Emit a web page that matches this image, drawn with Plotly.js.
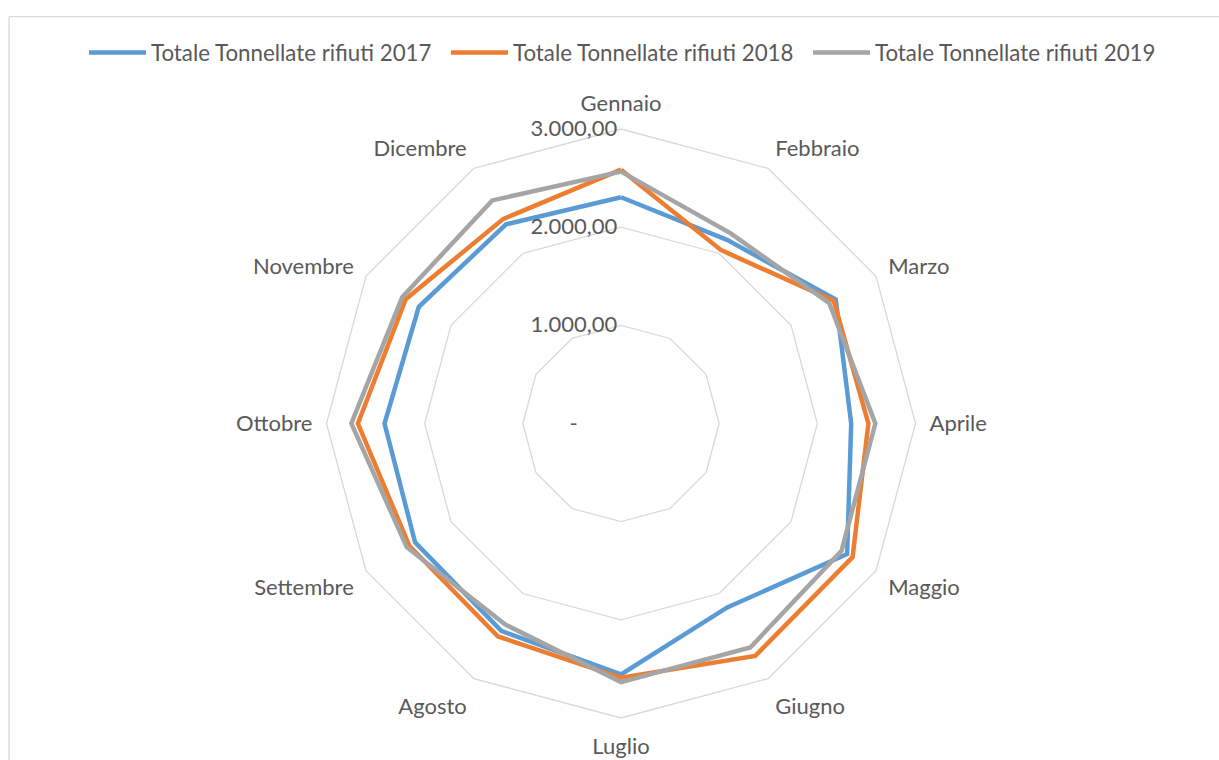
<!DOCTYPE html>
<html>
<head>
<meta charset="utf-8">
<script src="https://cdn.plot.ly/plotly-3.0.1.min.js"></script>
<style>html,body{margin:0;padding:0;background:#fff;overflow:hidden}#chart{width:1219px;height:760px}</style>
</head>
<body>
<div id="chart"></div>
<script>
const months = ["Gennaio","Febbraio","Marzo","Aprile","Maggio","Giugno","Luglio","Agosto","Settembre","Ottobre","Novembre","Dicembre"];
const seriesNames = ["Totale Tonnellate rifiuti 2017","Totale Tonnellate rifiuti 2018","Totale Tonnellate rifiuti 2019"];
const values2017 = [2305, 2160, 2526, 2345, 2660, 2164, 2556, 2439, 2422, 2409, 2378, 2343];
const values2018 = [2586, 2039, 2502, 2520, 2724, 2734, 2590, 2505, 2490, 2680, 2532, 2404];
const values2019 = [2566, 2236, 2450, 2591, 2594, 2634, 2634, 2363, 2520, 2747, 2574, 2624];
const radialTickVals = [0, 1000, 2000, 3000];
const radialTickText = ["-\u00a0\u00a0\u00a0\u00a0\u00a0\u00a0\u00a0", "1.000,00", "2.000,00", "3.000,00"];
const colors = ["#5B9BD5", "#ED7D31", "#A5A5A5"];

const allValues = [values2017, values2018, values2019];
const traces = allValues.map((v, i) => ({
  type: "scatterpolar",
  mode: "lines",
  r: v.concat([v[0]]),
  theta: months.concat([months[0]]),
  name: seriesNames[i],
  line: {color: colors[i], width: 4.5, shape: "linear"},
  hoverinfo: "skip"
}));

const layout = {
  width: 1219, height: 760,
  margin: {l: 23, r: 0, t: 128.5, b: 41.5},
  paper_bgcolor: "#fff",
  font: {family: "Lato, 'Open Sans', sans-serif", size: 22, color: "#595959"},
  showlegend: true,
  legend: {
    orientation: "h", x: 0.505, xanchor: "center", y: 1.13, yanchor: "middle",
    font: {size: 22.3, color: "#595959"}, itemwidth: 57, tracegroupgap: 0,
    entrywidth: 290
  },
  hovermode: false,
  polar: {
    bgcolor: "rgba(0,0,0,0)",
    gridshape: "linear",
    domain: {x: [0, 1], y: [0, 1]},
    radialaxis: {
      range: [0, 3000], angle: 90, tickangle: 90,
      tickvals: radialTickVals, ticktext: radialTickText,
      showline: false, ticks: "", gridcolor: "#d9d9d9", gridwidth: 1.3,
      side: "counterclockwise",
      tickfont: {size: 22, color: "#595959"}
    },
    angularaxis: {
      rotation: 90, direction: "clockwise",
      showgrid: false, showline: true, linecolor: "#d9d9d9", linewidth: 1.3,
      ticks: "outside", ticklen: 9, tickcolor: "rgba(0,0,0,0)",
      tickfont: {size: 22, color: "#595959"}
    }
  },
  shapes: [
    {type: "line", xref: "paper", yref: "paper", x0: (9 - 23) / 1196, x1: 2, y0: (718.5 - 16) / 590, y1: (718.5 - 16) / 590, line: {color: "#d9d9d9", width: 1.3}},
    {type: "line", xref: "paper", yref: "paper", x0: (9 - 23) / 1196, x1: (9 - 23) / 1196, y0: (718.5 - 16) / 590, y1: -1, line: {color: "#d9d9d9", width: 1.3}}
  ]
};

Plotly.newPlot("chart", traces, layout, {displayModeBar: false, staticPlot: true});
</script>
</body>
</html>
